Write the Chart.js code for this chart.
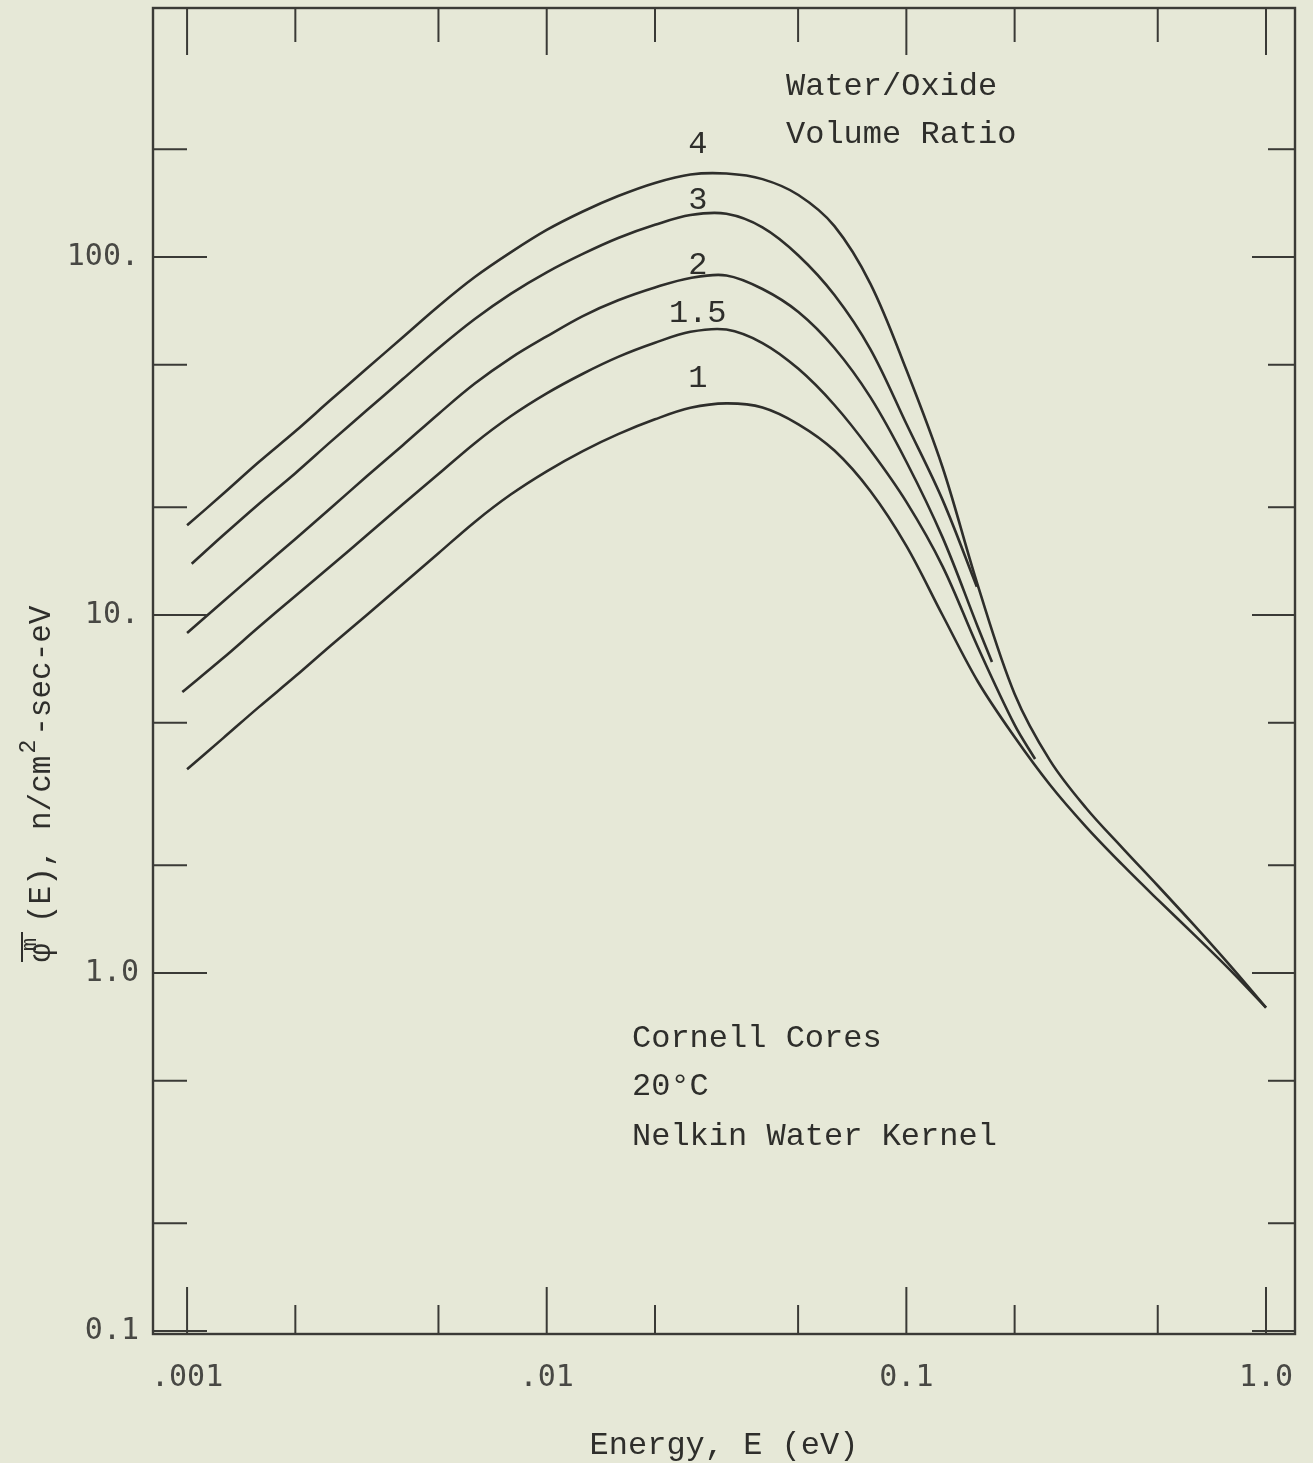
<!DOCTYPE html>
<html>
<head>
<meta charset="utf-8">
<script src="https://cdn.jsdelivr.net/npm/chart.js@4.4.1/dist/chart.umd.min.js"></script>
<style>
  html, body { margin: 0; padding: 0; background: #e6e8d7; }
  #wrap { width: 1313px; height: 1463px; }
  canvas { display: block; }
</style>
</head>
<body>
<div id="wrap"><canvas id="chart" width="1313" height="1463"></canvas></div>
<script>
// Neutron flux spectra, Cornell cores at 20 C, one curve per water/oxide volume ratio.
// Energies in eV, flux in n/cm^2-sec-eV.
const ratioLabels = ['1', '1.5', '2', '3', '4'];

// tenth-decade energy grid used by the full-range curves
const energyGrid = [0.001, 0.00126, 0.00158, 0.002, 0.00251, 0.00316, 0.00398, 0.00501, 0.00631, 0.00794,
                    0.01, 0.0126, 0.0158, 0.02, 0.0251, 0.0316, 0.0398, 0.0501, 0.0631, 0.0794,
                    0.1, 0.126, 0.158, 0.2, 0.251, 0.316, 0.398, 0.501, 0.631, 0.794, 1.0];

const energyR1 = energyGrid;
const fluxR1   = [3.71, 4.53, 5.52, 6.74, 8.22, 10.0, 12.2, 14.9, 18.2, 21.7,
                  25.2, 28.7, 32.0, 35.2, 37.9, 39.0, 38.0, 34.1, 28.8, 22.2,
                  15.6, 10.0, 6.52, 4.56, 3.35, 2.56, 2.01, 1.60, 1.28, 1.02, 0.80];

const energyR15 = [0.00097, 0.00126, 0.00158, 0.002, 0.00251, 0.00316, 0.00398, 0.00501, 0.00631, 0.00794,
                   0.01, 0.0126, 0.0158, 0.02, 0.0251, 0.0316, 0.0398, 0.0501, 0.0631, 0.0794,
                   0.1, 0.126, 0.158, 0.2, 0.228];
const fluxR15   = [6.09, 7.58, 9.24, 11.3, 13.7, 16.7, 20.4, 24.8, 30.2, 35.9,
                   41.6, 47.2, 52.6, 57.6, 61.8, 62.7, 57.5, 48.7, 38.6, 28.9,
                   20.7, 13.7, 8.14, 4.93, 3.96];

const energyR2 = [0.001, 0.00126, 0.00158, 0.002, 0.00251, 0.00316, 0.00398, 0.00501, 0.00631, 0.00794,
                  0.01, 0.0126, 0.0158, 0.02, 0.0251, 0.0316, 0.0398, 0.0501, 0.0631, 0.0794,
                  0.1, 0.126, 0.158, 0.173];
const fluxR2   = [8.91, 10.9, 13.3, 16.3, 19.9, 24.4, 29.8, 36.5, 44.3, 52.2,
                  60.0, 68.4, 75.7, 82.2, 87.4, 88.8, 81.4, 70.2, 55.7, 40.6,
                  26.8, 16.5, 9.26, 7.39];

const energyR3 = [0.00103, 0.00126, 0.00158, 0.002, 0.00251, 0.00316, 0.00398, 0.00501, 0.00631, 0.00794,
                  0.01, 0.0126, 0.0158, 0.02, 0.0251, 0.0316, 0.0398, 0.0501, 0.0631, 0.0794,
                  0.1, 0.126, 0.157];
const fluxR3   = [13.9, 16.7, 20.4, 24.9, 30.5, 37.3, 45.6, 55.7, 67.1, 78.9,
                  90.6, 102, 113, 123, 131, 132, 121, 101, 78.3, 55.3,
                  34.2, 21.0, 12.0];

const energyR4 = energyGrid;
const fluxR4   = [17.8, 21.8, 26.7, 32.6, 39.9, 48.8, 59.7, 73.0, 87.9, 103,
                  119, 134, 148, 161, 170, 171, 165, 149, 122, 84.3,
                  48.4, 25.9, 12.1, 6.02, 3.92, 2.89, 2.24, 1.75, 1.36, 1.05, 0.80];

// Axis ticks
const xMajorTicks = [0.001, 0.01, 0.1, 1];
const xTickLabels = ['.001', '.01', '0.1', '1.0'];
const xMinorTicks = [0.002, 0.005, 0.02, 0.05, 0.2, 0.5];
const yMajorTicks = [0.1, 1, 10, 100];
const yTickLabels = ['0.1', '1.0', '10.', '100.'];
const yMinorTicks = [0.2, 0.5, 2, 5, 20, 50, 200];

// Where each ratio label sits (energy, flux)
const labelEnergy = [0.0263, 0.0263, 0.0263, 0.0263, 0.0263];
const labelFlux   = [46.5, 70.7, 96.2, 146, 209];

const ink = '#2e2e2b';
const mono = '"Liberation Mono", "DejaVu Sans Mono", monospace';

function pairs(xs, ys) { return xs.map((x, i) => ({ x, y: ys[i] })); }

const seriesData = [
  pairs(energyR1, fluxR1),
  pairs(energyR15, fluxR15),
  pairs(energyR2, fluxR2),
  pairs(energyR3, fluxR3),
  pairs(energyR4, fluxR4)
];

// Inward tick marks on all four sides plus the plot frame
const frameTicks = {
  id: 'frameTicks',
  afterDatasetsDraw(chart) {
    const { ctx, chartArea: a, scales: { x, y } } = chart;
    ctx.save();
    ctx.strokeStyle = '#3a3a36';
    ctx.lineCap = 'butt';
    const seg = (x1, y1, x2, y2) => { ctx.beginPath(); ctx.moveTo(x1, y1); ctx.lineTo(x2, y2); ctx.stroke(); };
    ctx.lineWidth = 2;
    xMajorTicks.forEach(v => {
      const p = x.getPixelForValue(v);
      seg(p, a.bottom, p, a.bottom - 47);
      seg(p, a.top, p, a.top + 47);
    });
    xMinorTicks.forEach(v => {
      const p = x.getPixelForValue(v);
      seg(p, a.bottom, p, a.bottom - 29);
      seg(p, a.top, p, a.top + 34);
    });
    yMajorTicks.forEach(v => {
      const p = y.getPixelForValue(v);
      seg(a.left, p, a.left + 54, p);
      seg(a.right, p, a.right - 43, p);
    });
    yMinorTicks.forEach(v => {
      const p = y.getPixelForValue(v);
      seg(a.left, p, a.left + 34, p);
      seg(a.right, p, a.right - 27, p);
    });
    ctx.lineWidth = 2.4;
    ctx.strokeRect(a.left, a.top, a.right - a.left, a.bottom - a.top);
    ctx.restore();
  }
};

// Curve labels, notes and the rotated flux axis title
const annotations = {
  id: 'annotations',
  afterDraw(chart) {
    const { ctx, scales: { x, y } } = chart;
    ctx.save();
    ctx.fillStyle = ink;
    ctx.font = '32px ' + mono;
    ctx.textAlign = 'center';
    ctx.textBaseline = 'alphabetic';
    ratioLabels.forEach((t, i) => {
      ctx.fillText(t, x.getPixelForValue(labelEnergy[i]), y.getPixelForValue(labelFlux[i]) + 11);
    });

    ctx.textAlign = 'left';
    ctx.font = '32px ' + mono;
    ctx.fillText('Water/Oxide', 786, 95);
    ctx.fillText('Volume Ratio', 786, 143);
    ctx.fillText('Cornell Cores', 632, 1047);
    ctx.fillText('20\u00B0C', 632, 1095);
    ctx.fillText('Nelkin Water Kernel', 632, 1145);

    // vertical axis title: phi-bar superscript m (E), n/cm^2-sec-eV
    ctx.translate(50, 962);
    ctx.rotate(-Math.PI / 2);
    ctx.font = '31px ' + mono;
    ctx.fillText('\u03C6', 0, 0);
    ctx.fillRect(0, -29, 30, 2);
    ctx.font = '22px ' + mono;
    ctx.fillText('m', 11, -14);
    ctx.font = '31px ' + mono;
    const first = '(E), n/cm';
    ctx.fillText(first, 39, 0);
    const w1 = ctx.measureText(first).width;
    ctx.font = '23px ' + mono;
    ctx.fillText('2', 39 + w1 + 2, -15);
    const w2 = ctx.measureText('2').width;
    ctx.font = '31px ' + mono;
    ctx.fillText('-sec-eV', 39 + w1 + w2 + 6, 0);
    ctx.restore();
  }
};

const chart = new Chart(document.getElementById('chart'), {
  type: 'scatter',
  data: {
    datasets: seriesData.map((d, i) => ({
      label: ratioLabels[i],
      data: d,
      showLine: true,
      borderColor: ink,
      borderWidth: 2.6,
      borderJoinStyle: 'round',
      pointRadius: 0,
      pointHoverRadius: 0,
      tension: 0.35,
      fill: false
    }))
  },
  options: {
    responsive: false,
    animation: false,
    devicePixelRatio: 1,
    layout: { padding: { top: 8, right: 18, left: 0, bottom: 0 } },
    plugins: { legend: { display: false }, tooltip: { enabled: false } },
    scales: {
      x: {
        type: 'logarithmic',
        min: 0.000804,
        max: 1.204,
        grid: { display: false, drawTicks: false },
        border: { display: false },
        afterBuildTicks: s => { s.ticks = xMajorTicks.map(v => ({ value: v })); },
        afterFit: s => { s.height = 129; s.paddingLeft = 0; s.paddingRight = 0; },
        ticks: {
          autoSkip: false,
          maxRotation: 0,
          padding: 26,
          color: '#484844',
          font: { family: '"DejaVu Sans Mono", monospace', size: 30 },
          callback: v => { const i = xMajorTicks.indexOf(v); return i >= 0 ? xTickLabels[i] : ''; }
        },
        title: {
          display: true,
          text: 'Energy, E (eV)',
          color: ink,
          font: { family: mono, size: 32, lineHeight: 1.1 },
          padding: { top: 0, bottom: 0 }
        }
      },
      y: {
        type: 'logarithmic',
        min: 0.0981,
        max: 496,
        grid: { display: false, drawTicks: false },
        border: { display: false },
        afterBuildTicks: s => { s.ticks = yMajorTicks.map(v => ({ value: v })); },
        afterFit: s => { s.width = 153; s.paddingTop = 0; s.paddingBottom = 0; },
        ticks: {
          autoSkip: false,
          padding: 14,
          color: '#484844',
          font: { family: '"DejaVu Sans Mono", monospace', size: 30 },
          callback: v => { const i = yMajorTicks.indexOf(v); return i >= 0 ? yTickLabels[i] : ''; }
        }
      }
    }
  },
  plugins: [frameTicks, annotations]
});
</script>
</body>
</html>
